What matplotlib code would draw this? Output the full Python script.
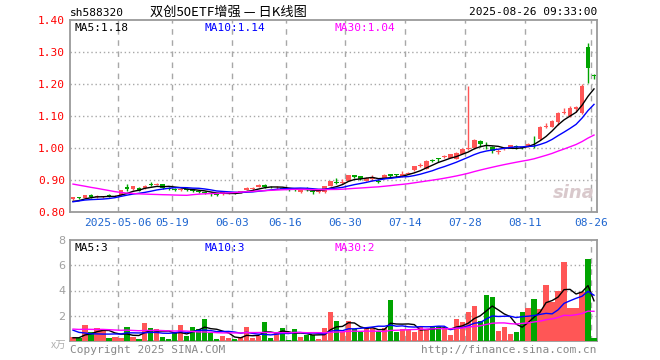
import numpy as np
import pandas as pd
import matplotlib
matplotlib.use('Agg')
import matplotlib.pyplot as plt

code = 'sh588320'
title = '双创50ETF增强 — 日K线图'
stamp = '2025-08-26 09:33:00'

holidays = ['2025-05-01', '2025-05-02', '2025-05-05', '2025-06-02']
tick_dates = ['2025-05-06', '2025-05-19', '2025-06-03', '2025-06-16', '2025-06-30',
              '2025-07-14', '2025-07-28', '2025-08-11', '2025-08-26']
tick_labels = ['2025-05-06', '05-19', '06-03', '06-16', '06-30',
               '07-14', '07-28', '08-11', '08-26']

# closes / volumes before the first visible bar (only feed the moving averages)
prev_close = [0.945, 0.950, 0.955, 0.940, 0.950, 0.950, 0.955, 0.945, 0.935, 0.915,
              0.905, 0.900, 0.905, 0.905, 0.895, 0.885, 0.890, 0.888, 0.880, 0.805,
              0.815, 0.825, 0.835, 0.840, 0.838, 0.832, 0.825, 0.828, 0.835]
prev_volume = [1.1, 0.9, 1.0, 1.2, 0.8, 0.9, 1.1, 0.9, 0.8, 1.0,
               0.9, 0.8, 1.0, 0.7, 0.9, 0.8, 1.1, 0.9, 0.8, 2.2,
               2.0, 1.8, 1.4, 1.1, 1.0, 0.25, 0.2, 0.3, 0.2]

opens = [0.840, 0.846, 0.845, 0.852, 0.846, 0.846, 0.853, 0.849, 0.853, 0.878,
         0.872, 0.875, 0.875, 0.889, 0.885, 0.887, 0.876, 0.872, 0.868, 0.872,
         0.869, 0.866, 0.862, 0.858, 0.857, 0.856, 0.858, 0.861, 0.861, 0.870,
         0.872, 0.879, 0.884, 0.879, 0.874, 0.876, 0.873, 0.870, 0.862, 0.872,
         0.866, 0.861, 0.862, 0.882, 0.895, 0.892, 0.898, 0.915, 0.913, 0.898,
         0.903, 0.898, 0.905, 0.918, 0.918, 0.914, 0.920, 0.930, 0.944, 0.935,
         0.962, 0.966, 0.972, 0.970, 0.967, 0.982, 0.996, 1.000, 1.022, 1.010,
         1.003, 0.989, 0.998, 1.001, 1.005, 1.002, 1.004, 1.035, 1.028, 1.066,
         1.067, 1.080, 1.108, 1.100, 1.122, 1.108, 1.316, 1.228]
closes = [0.846, 0.843, 0.852, 0.848, 0.848, 0.847, 0.849, 0.851, 0.869, 0.873,
          0.880, 0.867, 0.881, 0.884, 0.888, 0.875, 0.873, 0.870, 0.873, 0.869,
          0.866, 0.862, 0.860, 0.856, 0.853, 0.861, 0.860, 0.859, 0.865, 0.876,
          0.876, 0.883, 0.879, 0.877, 0.876, 0.873, 0.870, 0.868, 0.870, 0.870,
          0.862, 0.866, 0.880, 0.896, 0.892, 0.895, 0.915, 0.910, 0.904, 0.906,
          0.906, 0.895, 0.916, 0.913, 0.916, 0.918, 0.922, 0.943, 0.946, 0.960,
          0.960, 0.965, 0.975, 0.980, 0.985, 0.997, 1.000, 1.025, 1.013, 1.005,
          0.991, 0.992, 1.000, 1.009, 1.002, 0.999, 1.014, 1.033, 1.066, 1.069,
          1.084, 1.110, 1.111, 1.125, 1.127, 1.195, 1.250, 1.226]
highs = [0.848, 0.848, 0.854, 0.856, 0.852, 0.850, 0.855, 0.853, 0.870, 0.886,
         0.882, 0.877, 0.883, 0.894, 0.890, 0.888, 0.879, 0.875, 0.875, 0.874,
         0.871, 0.868, 0.866, 0.861, 0.859, 0.862, 0.862, 0.863, 0.866, 0.879,
         0.878, 0.886, 0.888, 0.881, 0.880, 0.878, 0.875, 0.872, 0.871, 0.878,
         0.867, 0.868, 0.882, 0.898, 0.906, 0.902, 0.916, 0.916, 0.914, 0.908,
         0.915, 0.902, 0.918, 0.920, 0.920, 0.927, 0.925, 0.945, 0.953, 0.962,
         0.966, 0.968, 0.979, 0.982, 0.987, 0.999, 1.195, 1.027, 1.026, 1.020,
         1.005, 0.998, 1.002, 1.010, 1.010, 1.004, 1.016, 1.036, 1.068, 1.077,
         1.086, 1.112, 1.125, 1.130, 1.132, 1.199, 1.328, 1.230]
lows = [0.838, 0.840, 0.843, 0.845, 0.843, 0.844, 0.846, 0.847, 0.851, 0.866,
        0.870, 0.865, 0.873, 0.880, 0.883, 0.873, 0.870, 0.866, 0.866, 0.867,
        0.864, 0.860, 0.855, 0.851, 0.851, 0.854, 0.856, 0.857, 0.859, 0.868,
        0.870, 0.877, 0.875, 0.874, 0.872, 0.871, 0.866, 0.866, 0.858, 0.866,
        0.856, 0.859, 0.858, 0.880, 0.886, 0.886, 0.896, 0.905, 0.899, 0.896,
        0.898, 0.891, 0.903, 0.910, 0.908, 0.910, 0.918, 0.928, 0.940, 0.933,
        0.956, 0.956, 0.970, 0.968, 0.965, 0.980, 0.993, 0.998, 1.003, 0.997,
        0.985, 0.980, 0.995, 0.999, 0.998, 0.996, 1.002, 1.000, 1.026, 1.062,
        1.065, 1.072, 1.105, 1.097, 1.112, 1.105, 1.203, 1.215]
volumes = [0.32, 0.27, 1.30, 0.73, 1.05, 0.86, 0.24, 0.32, 0.24, 1.14,
           0.32, 0.16, 1.46, 1.05, 0.95, 0.32, 0.15, 0.68, 1.24, 0.40,
           1.14, 0.95, 1.78, 0.62, 0.16, 0.40, 0.24, 0.16, 0.30, 1.14,
           0.24, 0.40, 1.54, 0.24, 0.73, 1.05, 0.10, 0.97, 0.32, 0.49,
           0.49, 0.16, 1.05, 2.27, 1.62, 0.68, 1.62, 0.95, 0.73, 1.00,
           1.00, 0.81, 1.00, 3.24, 0.68, 0.95, 0.89, 0.73, 1.08, 0.89,
           1.08, 1.22, 0.95, 0.51, 1.76, 1.54, 2.30, 2.76, 1.62, 3.65,
           3.51, 0.81, 1.14, 0.55, 0.68, 2.30, 2.62, 3.32, 2.51, 4.46,
           3.10, 4.00, 6.27, 2.62, 2.62, 3.92, 6.51, 0.24]

RED = '#ff5656'
GREEN = '#00a400'
GRID = '#a8a8a8'
MONO = 'DejaVu Sans Mono'

dates = pd.bdate_range('2025-04-21', '2025-08-26')
dates = dates[~dates.isin(pd.to_datetime(holidays))]
x = np.arange(len(dates))
o, c, h, l = map(np.array, (opens, closes, highs, lows))
v = np.array(volumes)
up = c >= o
colors = np.where(up, RED, GREEN)


def moving(prev, cur, n):
    s = pd.Series(list(prev) + list(cur)).rolling(n).mean().values
    return s[len(prev):]


fig = plt.figure(figsize=(6.6, 3.6), dpi=100)
ax = fig.add_axes([70 / 660, 1 - 212 / 360, 527 / 660, 192 / 360])
axv = fig.add_axes([70 / 660, 1 - 341 / 360, 527 / 660, 101 / 360])

tick_pos = [int(np.where(dates == pd.Timestamp(d))[0][0]) - 0.5 for d in tick_dates]

for a in (ax, axv):
    a.set_xlim(-0.5, len(x) - 0.5)
    for s in a.spines.values():
        s.set_color('#9a9a9a')
        s.set_linewidth(1.3)
    for t in tick_pos:
        a.axvline(t, color=GRID, lw=1.0, ls=(0, (4, 4)), zorder=0)
    a.tick_params(length=0)

# candles
ax.vlines(x, l, h, colors=colors, lw=1.0, zorder=3)
body = np.maximum(np.abs(c - o), 0.0025)
ax.bar(x, body, bottom=np.minimum(o, c), width=0.78, color=colors, lw=0, zorder=4)

for n, col in ((5, 'black'), (10, '#0000ff'), (30, '#ff00ff')):
    ax.plot(x, moving(prev_close, closes, n), color=col, lw=1.0, zorder=5)

ax.set_ylim(0.80, 1.40)
ax.set_yticks(np.arange(0.80, 1.401, 0.10))
ax.set_yticklabels(['%.2f' % t for t in np.arange(0.80, 1.401, 0.10)],
                   color='red', family=MONO, fontsize=8)
for yv in (0.9, 1.0, 1.1, 1.2, 1.3):
    ax.axhline(yv, color=GRID, lw=1.0, ls=(0, (1, 2)), zorder=0)
ax.set_xticks(tick_pos)
ax.set_xticklabels(tick_labels, color='#1f66d0', family=MONO, fontsize=8)
ax.tick_params(axis='x', pad=4)

ma_p = [moving(prev_close, closes, n)[-1] for n in (5, 10, 30)]
ax.text(0.008, 0.985, 'MA5:%.2f' % ma_p[0], transform=ax.transAxes, va='top',
        family=MONO, fontsize=8, color='black')
ax.text(0.255, 0.985, 'MA10:%.2f' % ma_p[1], transform=ax.transAxes, va='top',
        family=MONO, fontsize=8, color='#0000ff')
ax.text(0.502, 0.985, 'MA30:%.2f' % ma_p[2], transform=ax.transAxes, va='top',
        family=MONO, fontsize=8, color='#ff00ff')
ax.text(0.955, 0.05, 'sina', transform=ax.transAxes, ha='center', va='bottom',
        fontsize=13, fontweight='bold', style='italic', color='#d9c9cc', zorder=1)

# volume
axv.bar(x, v, width=0.88, color=colors, lw=0, zorder=3)
for n, col in ((5, 'black'), (10, '#0000ff'), (30, '#ff00ff')):
    axv.plot(x, moving(prev_volume, volumes, n), color=col, lw=1.0, zorder=5)
axv.set_ylim(0, 8)
axv.set_yticks([2, 4, 6, 8])
axv.set_yticklabels(['2', '4', '6', '8'], color='#a0a0a0', fontsize=8)
for yv in (2, 4, 6):
    axv.axhline(yv, color=GRID, lw=1.0, ls=(0, (1, 2)), zorder=0)
axv.set_xticks([])
ma_v = [moving(prev_volume, volumes, n)[-1] for n in (5, 10, 30)]
axv.text(0.008, 0.97, 'MA5:%d' % ma_v[0], transform=axv.transAxes, va='top',
         family=MONO, fontsize=8, color='black')
axv.text(0.255, 0.97, 'MA10:%d' % ma_v[1], transform=axv.transAxes, va='top',
         family=MONO, fontsize=8, color='#0000ff')
axv.text(0.502, 0.97, 'MA30:%d' % ma_v[2], transform=axv.transAxes, va='top',
         family=MONO, fontsize=8, color='#ff00ff')

# header / footer
fig.text(70 / 660, 1 - 13 / 360, code, va='center', family=MONO, fontsize=8)
fig.text(150 / 660, 1 - 12 / 360, title, va='center',
         family=['Noto Sans CJK SC', 'DejaVu Sans'], fontsize=9.5)
fig.text(597 / 660, 1 - 12 / 360, stamp, ha='right', va='center', family=MONO, fontsize=8)
fig.text(66 / 660, 1 - 346 / 360, 'x万', ha='right', va='center', color='#b0b0b0',
         family=['Noto Sans CJK SC', 'DejaVu Sans'], fontsize=7.5)
fig.text(70 / 660, 1 - 350 / 360, 'Copyright 2025 SINA.COM', va='center',
         color='#888888', family=MONO, fontsize=8)
fig.text(597 / 660, 1 - 350 / 360, 'http://finance.sina.com.cn', ha='right', va='center',
         color='#888888', family=MONO, fontsize=8)

fig.savefig('out.png', dpi=100, facecolor='white')
